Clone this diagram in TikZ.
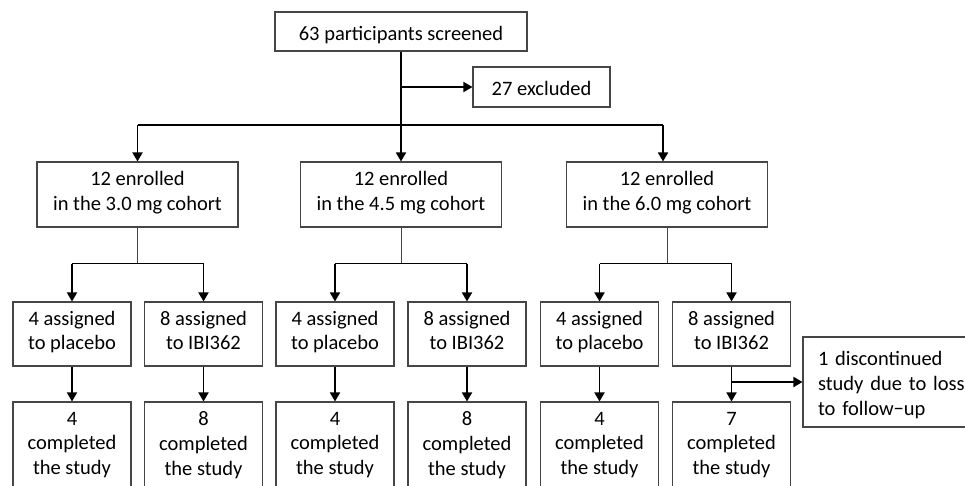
\documentclass[tikz,border=0pt]{standalone}
\usepackage{fontspec}
\setmainfont{Carlito}
\usetikzlibrary{arrows.meta}
\definecolor{boxline}{RGB}{70,70,70}
\tikzset{
  x=1pt,y=-1pt,
  flowbox/.style={draw=boxline,line width=1.1pt,fill=white,inner sep=0pt,align=center,
    font=\fontsize{20.5}{24.8}\selectfont,text=black,
    execute at begin node=\rule{0pt}{24.5pt}, execute at end node=\strut},
  thickarrow/.style={line width=1.8pt,-{Triangle[length=9pt,width=10pt]}},
  thickline/.style={line width=1.8pt},
  thinline/.style={draw=boxline,line width=1pt},
}
\begin{document}
\begin{tikzpicture}
\useasboundingbox (0,0) rectangle (965,485);
\fill[white] (0,0) rectangle (965,485);
% top
\node[flowbox,minimum width=252pt,minimum height=39pt] (top) at (401,31.5) {63 participants screened};
\node[flowbox,minimum width=137pt,minimum height=40pt] (excl) at (541.5,87) {27 excluded};
% cohorts
\node[flowbox,minimum width=201pt,minimum height=65pt] (c1) at (137.5,194.5) {12 enrolled\\in the 3.0 mg cohort};
\node[flowbox,minimum width=201pt,minimum height=65pt] (c2) at (401,194.5) {12 enrolled\\in the 4.5 mg cohort};
\node[flowbox,minimum width=201pt,minimum height=65pt] (c3) at (667,194.5) {12 enrolled\\in the 6.0 mg cohort};
% assigned
\foreach \n/\cx/\t in {a1/72/{4 assigned\\to placebo},a2/203.5/{8 assigned\\to IBI362},
  a3/335/{4 assigned\\to placebo},a4/467/{8 assigned\\to IBI362},
  a5/599.5/{4 assigned\\to placebo},a6/731.5/{8 assigned\\to IBI362}}
  \node[flowbox,minimum width=118pt,minimum height=64pt] (\n) at (\cx,334) {\t};
% completed (bottom edge runs off the page)
\foreach \n/\cx/\t in {d1/72/4,d2/203.5/8,d3/335/4,d4/467/8,d5/599.5/4,d6/731.5/7}
  \node[flowbox,minimum width=118pt,minimum height=90pt] (\n) at (\cx,447) {\t\\completed\\the study};
% discontinued (right edge runs off the page)
\node[flowbox,minimum width=182pt,minimum height=90pt,align=left,text width=152pt] (disc) at (894,382)
  {1 discontinued\\study due to loss\\to follow\char"2212 up};
% connectors top
\coordinate (bar) at (401,125);
\coordinate (exj) at (401,87);
\draw[thickline] (top.south) -- (bar);
\draw[thickarrow] (exj) -- (excl.west);
\draw[thickline] (137.5,125) -- (663,125);
\draw[thickarrow] (137.5,125) -- (c1.north);
\draw[thickarrow] (bar) -- (c2.north);
\draw[thickarrow] (663,125) -- (c3.north -| 663,0);
% cohort to assigned
\foreach \c/\l/\r in {c1/a1/a2,c2/a3/a4,c3/a5/a6}{
  \draw[thinline] (\c.south) -- ++(0,36) coordinate (j\c);
  \draw[thickline] (\l.north |- j\c) -- (\r.north |- j\c);
  \draw[thickarrow] (\l.north |- j\c) -- (\l.north);
  \draw[thickarrow] (\r.north |- j\c) -- (\r.north);
}
% assigned to completed
\foreach \a/\d in {a1/d1,a2/d2,a3/d3,a4/d4,a5/d5,a6/d6}
  \draw[thickarrow] (\a.south) -- (\d.north);
\coordinate (dj) at (731.5,382);
\draw[thickarrow] (dj) -- (disc.west);
\end{tikzpicture}
\end{document}
